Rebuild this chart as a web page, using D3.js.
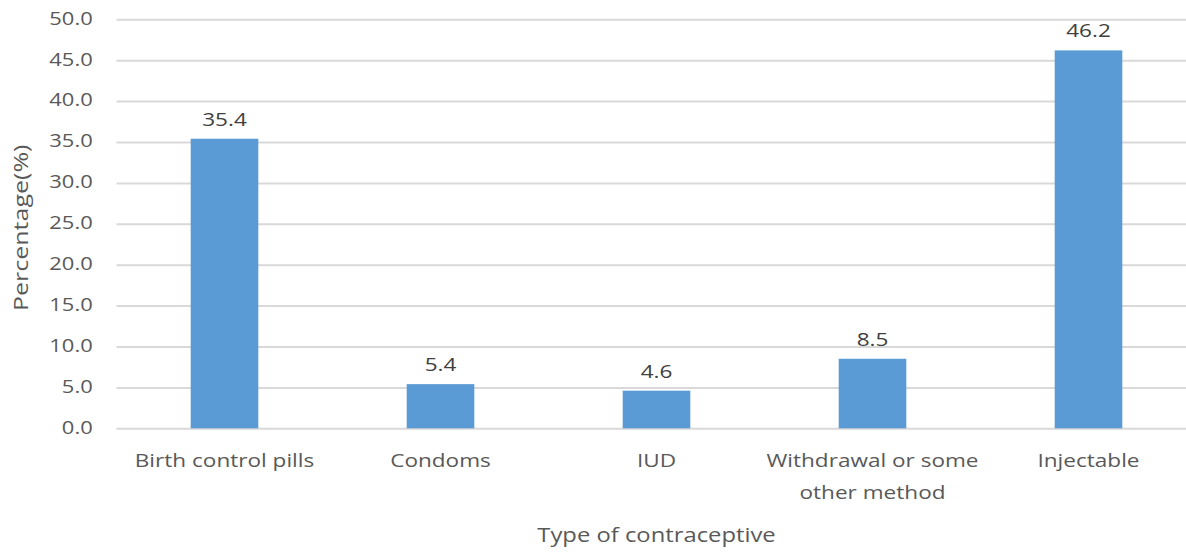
<!DOCTYPE html>
<html>
<head>
<meta charset="utf-8">
<script src="https://cdn.jsdelivr.net/npm/d3@7/dist/d3.min.js"></script>
<style>
  html, body { margin: 0; padding: 0; background: #ffffff; }
  svg { display: block; font-family: "Open Sans", "Noto Sans", sans-serif; }
</style>
</head>
<body>
<svg id="chart" width="1186" height="552"></svg>
<script>
// Contraceptive use by method (%)
const categories = ["Birth control pills", "Condoms", "IUD", "Withdrawal or some other method", "Injectable"];
const values = [35.4, 5.4, 4.6, 8.5, 46.2];
const yTicks = [0, 5, 10, 15, 20, 25, 30, 35, 40, 45, 50];
const xTitle = "Type of contraceptive";
const yTitle = "Percentage(%)";

const W = 1186, H = 552;
const plot = { left: 116.5, right: 1196.5, top: 19.3, bottom: 428.3 };
const stretch = 1.22;           // horizontal widening of the text glyphs
const gridColor = "#d9d9d9";
const barColor = "#5b9bd5";
const axisTextColor = "#595959";
const labelColor = "#404040";

const svg = d3.select("#chart");

const x = d3.scaleBand()
  .domain(categories)
  .range([plot.left, plot.right])
  .paddingInner(0.687)
  .paddingOuter(0.3435);

const y = d3.scaleLinear()
  .domain([0, 50])
  .range([plot.bottom, plot.top]);

// Gridlines and y tick labels
const yAxis = d3.axisLeft(y)
  .tickValues(yTicks)
  .tickFormat(d3.format(".1f"))
  .tickSize(-(W - plot.left))
  .tickPadding(0);

const gy = svg.append("g")
  .attr("transform", `translate(${plot.left},0)`)
  .call(yAxis);
gy.select(".domain").remove();
gy.selectAll(".tick line")
  .attr("stroke", gridColor)
  .attr("stroke-width", 2);
gy.selectAll(".tick text")
  .attr("x", 0)
  .attr("dy", "0.27em")
  .attr("transform", `translate(-23.8,0) scale(${stretch},1)`)
  .attr("text-anchor", "end")
  .attr("fill", axisTextColor)
  .style("font-size", "18px")
  .style("font-family", "'Open Sans', 'Noto Sans', sans-serif");

// Bars
svg.append("g")
  .selectAll("rect")
  .data(values)
  .join("rect")
  .attr("x", (d, i) => x(categories[i]))
  .attr("y", d => y(d))
  .attr("width", x.bandwidth())
  .attr("height", d => y(0) - y(d))
  .attr("fill", barColor);

// Value labels above bars
svg.append("g")
  .selectAll("text")
  .data(values)
  .join("text")
  .attr("transform", (d, i) => `translate(${x(categories[i]) + x.bandwidth() / 2},${y(d) - 13}) scale(${stretch},1)`)
  .attr("text-anchor", "middle")
  .attr("fill", labelColor)
  .style("font-size", "18.5px")
  .text(d => d.toFixed(1));

// Category labels, wrapped to the band step
const catG = svg.append("g");
const maxLine = x.step() / stretch;
categories.forEach(cat => {
  const t = catG.append("text")
    .attr("transform", `translate(${x(cat) + x.bandwidth() / 2},467) scale(${stretch},1)`)
    .attr("text-anchor", "middle")
    .attr("fill", axisTextColor)
    .style("font-size", "18.5px");
  const words = cat.split(" ");
  let line = [];
  let lineNo = 0;
  let tspan = t.append("tspan").attr("x", 0).attr("y", 0);
  words.forEach(w => {
    line.push(w);
    tspan.text(line.join(" "));
    if (tspan.node().getComputedTextLength() > maxLine && line.length > 1) {
      line.pop();
      tspan.text(line.join(" "));
      line = [w];
      lineNo += 1;
      tspan = t.append("tspan").attr("x", 0).attr("y", lineNo * 32 / 1).text(w);
    }
  });
});

// Axis titles
svg.append("text")
  .attr("transform", `translate(${(plot.left + plot.right) / 2},542) scale(${stretch},1)`)
  .attr("text-anchor", "middle")
  .attr("fill", axisTextColor)
  .style("font-size", "19.5px")
  .text(xTitle);

svg.append("text")
  .attr("transform", `translate(28.3,${(plot.top + plot.bottom) / 2 + 4}) rotate(-90) scale(${stretch},1)`)
  .attr("text-anchor", "middle")
  .attr("fill", axisTextColor)
  .style("font-size", "20.5px")
  .text(yTitle);
</script>
</body>
</html>
